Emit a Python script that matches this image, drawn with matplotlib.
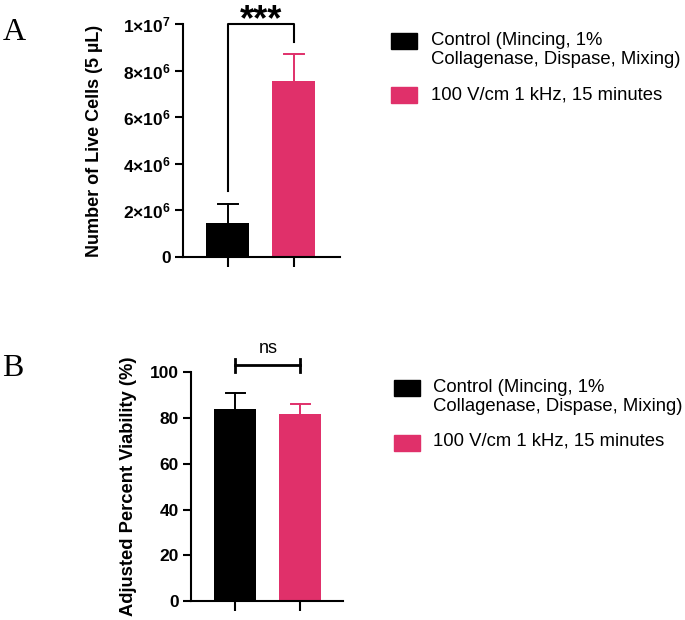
import matplotlib
matplotlib.use("Agg")
import matplotlib.pyplot as plt
from matplotlib.patches import Rectangle

plt.rcParams['font.family'] = ['Liberation Sans', 'DejaVu Sans']
plt.rcParams['mathtext.fontset'] = 'custom'
plt.rcParams['mathtext.rm'] = 'Liberation Sans'
plt.rcParams['mathtext.bf'] = 'Liberation Sans:bold'

# data
groups = ["Control (Mincing, 1%\nCollagenase, Dispase, Mixing)",
          "100 V/cm 1 kHz, 15 minutes"]
colors = ["#000000", "#E0306A"]

live_cells = [1.46e6, 7.55e6]
live_cells_err = [0.81e6, 1.16e6]
live_ticks = [0, 2e6, 4e6, 6e6, 8e6, 1e7]
live_ticklabels = ["0", r"$\mathbf{2{\times}10^6}$", r"$\mathbf{4{\times}10^6}$",
                   r"$\mathbf{6{\times}10^6}$", r"$\mathbf{8{\times}10^6}$",
                   r"$\mathbf{1{\times}10^7}$"]

viability = [83.8, 81.7]
viability_err = [7.0, 4.3]
viab_ticks = [0, 20, 40, 60, 80, 100]

fig = plt.figure(figsize=(6.85, 6.2), dpi=100)

def style_axes(ax):
    for s in ['top', 'right']:
        ax.spines[s].set_visible(False)
    for s in ['left', 'bottom']:
        ax.spines[s].set_linewidth(1.5)
    ax.tick_params(axis='y', width=1.5, length=5.8, pad=3, labelsize=12.5)
    ax.tick_params(axis='x', width=1.5, length=7, labelbottom=False)
    for lab in ax.get_yticklabels():
        lab.set_fontweight('bold')

def draw_bars(ax, vals, errs):
    x = [0, 1]
    ax.bar(x, vals, width=0.65, color=colors, zorder=2)
    # upper error bars only
    for xi, v, e, c in zip(x, vals, errs, colors):
        ax.plot([xi, xi], [v, v + e], color=c, lw=1.4, zorder=3)
        ax.plot([xi - 0.15, xi + 0.15], [v + e, v + e], color=c, lw=1.4, zorder=3)
    ax.set_xticks(x)

# Panel A
axA = fig.add_axes([0.267, 0.5855, 0.229, 0.3758])
draw_bars(axA, live_cells, live_cells_err)
axA.set_xlim(-0.68, 1.70)
axA.set_ylim(0, 1e7)
axA.set_yticks(live_ticks)
axA.set_yticklabels(live_ticklabels)
style_axes(axA)
axA.set_ylabel("Number of Live Cells (5 µL)", fontsize=13, fontweight='bold')
axA.yaxis.set_label_coords(-0.51, 0.5)
axA.plot([0, 0, 1, 1], [2.83e6, 1e7, 1e7, 9.23e6], color='black', lw=1.5,
         clip_on=False, zorder=4)
axA.text(0.5, 9.72e6, "***", ha='center', va='baseline', fontsize=26,
         fontweight='bold')

# Panel B
axB = fig.add_axes([0.279, 0.0306, 0.222, 0.369])
draw_bars(axB, viability, viability_err)
axB.set_xlim(-0.68, 1.66)
axB.set_ylim(0, 100)
axB.set_yticks(viab_ticks)
style_axes(axB)
axB.set_ylabel("Adjusted Percent Viability (%)", fontsize=13.2, fontweight='bold')
axB.yaxis.set_label_coords(-0.355, 0.5)
axB.plot([0, 1], [103.1, 103.1], color='black', lw=2, clip_on=False)
for xi in [0, 1]:
    axB.plot([xi, xi], [100.2, 105.9], color='black', lw=2, clip_on=False)
axB.text(0.5, 110.5, "ns", ha='center', va='center', fontsize=13)

# panel letters
fig.text(14 / 685, 1 - 33 / 620, "A", fontsize=23, family='Liberation Serif',
         ha='center', va='center')
fig.text(13 / 685, 1 - 369 / 620, "B", fontsize=23, family='Liberation Serif',
         ha='center', va='center')

# legends (patch aligned with first text line)
def legend(x_patch, y_rows, x_text):
    for (yp, yt), lab, c in zip(y_rows, groups, colors):
        fig.patches.append(Rectangle((x_patch / 685, 1 - (yp + 8) / 620),
                                     26 / 685, 16 / 620, color=c,
                                     transform=fig.transFigure))
        fig.text(x_text / 685, 1 - (yt - 10) / 620, lab, fontsize=13.3,
                 ha='left', va='top', linespacing=1.12)

legend(391, [(41, 42), (95, 97)], 431)
legend(394, [(388, 389), (443, 443)], 433)

fig.savefig("out.png", dpi=100)
